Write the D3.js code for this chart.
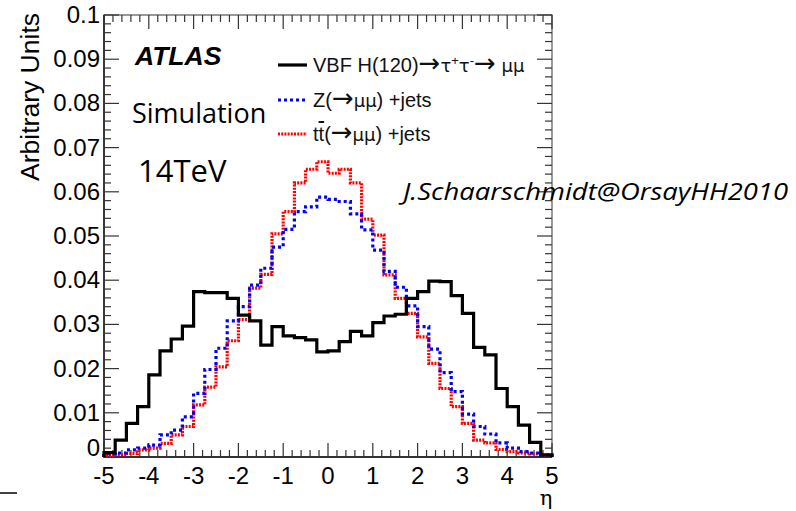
<!DOCTYPE html>
<html><head><meta charset="utf-8">
<script src="https://cdn.jsdelivr.net/npm/d3@7"></script>
<style>body{margin:0;background:#fff}svg{display:block}</style>
</head><body>
<svg id="c" width="796" height="511"></svg>
<script>
// bin edges: 40 bins of 0.25 from -5 to 5
const binLow = d3.range(40).map(i => -5 + i * 0.25);
const vbf = [0.001,0.0038,0.0076,0.0114,0.0186,0.024,0.0267,0.0296,0.0374,0.0372,
  0.0372,0.0359,0.0321,0.0308,0.0253,0.0295,0.0274,0.027,0.0265,0.0238,
  0.024,0.0261,0.0284,0.0274,0.0304,0.0319,0.0323,0.0359,0.0374,0.0398,
  0.0397,0.0365,0.0325,0.0248,0.0231,0.0155,0.0114,0.0072,0.0033,0.0005];
const zjets = [0.0007,0.0009,0.0016,0.002,0.0027,0.005,0.0061,0.0091,0.0144,0.0198,
  0.0246,0.0308,0.034,0.0389,0.0427,0.0475,0.0515,0.0555,0.0566,0.0588,
  0.0583,0.0578,0.055,0.0514,0.0468,0.042,0.0384,0.0342,0.0295,0.0244,
  0.0191,0.0148,0.0097,0.0069,0.0052,0.0032,0.002,0.0012,0.0009,0.0005];
const ttbar = [0.0003,0.0005,0.0008,0.0016,0.002,0.0031,0.005,0.0069,0.0118,0.0158,
  0.0204,0.0263,0.0311,0.0382,0.0413,0.0505,0.0555,0.062,0.0651,0.0668,
  0.0642,0.0651,0.062,0.0538,0.0502,0.0412,0.0359,0.0325,0.0272,0.0212,
  0.0155,0.0114,0.0076,0.0038,0.0032,0.0017,0.0012,0.0009,0.0007,0.0004];
const xTicks = [-5,-4,-3,-2,-1,0,1,2,3,4,5];
const yTicks = [0,0.01,0.02,0.03,0.04,0.05,0.06,0.07,0.08,0.09,0.1];
const yTickLabels = ["0","0.01","0.02","0.03","0.04","0.05","0.06","0.07","0.08","0.09","0.1"];
const legendLabels = ["VBF H(120)\u2192\u03c4\u207a\u03c4\u207b\u2192 \u03bc\u03bc","Z(\u2192\u03bc\u03bc) +jets","t\u0305t(\u2192\u03bc\u03bc) +jets"];

const svg = d3.select("#c");
const L=104, R=552, T=15, B=457;
const x = d3.scaleLinear().domain([-5,5]).range([L,R]);
const y = d3.scaleLinear().domain([0,0.1]).range([B,T]);
const font = "'Liberation Sans', Arial, sans-serif";
const sym = "'DejaVu Sans', sans-serif";

// frame
svg.append("rect").attr("x",L).attr("y",T).attr("width",R-L).attr("height",B-T)
  .attr("fill","none").attr("stroke","#555").attr("stroke-width",1.2);
svg.append("path").attr("d",`M${L},${T}V${B}H${R}`).attr("fill","none").attr("stroke","#111").attr("stroke-width",1.4);

// minor/major ticks
const xMinor = d3.range(-5,5.0001,0.2);
const yMinor = d3.range(0,0.1001,0.002);
const tg = svg.append("g").attr("stroke","#333").attr("stroke-width",1.2);
xMinor.forEach(v=>{
  const major = Math.abs(v-Math.round(v))<1e-6;
  const len = major?14:7;
  tg.append("line").attr("x1",x(v)).attr("x2",x(v)).attr("y1",B).attr("y2",B-len);
  tg.append("line").attr("x1",x(v)).attr("x2",x(v)).attr("y1",T).attr("y2",T+len);
});
yMinor.forEach(v=>{
  const major = Math.abs(v*100-Math.round(v*100))<1e-6;
  const len = major?15:7;
  tg.append("line").attr("y1",y(v)).attr("y2",y(v)).attr("x1",L).attr("x2",L+len);
  tg.append("line").attr("y1",y(v)).attr("y2",y(v)).attr("x1",R).attr("x2",R-len);
});

// tick labels
svg.append("g").selectAll("text").data(xTicks).join("text")
  .attr("x",d=>x(d)).attr("y",484).attr("text-anchor","middle")
  .attr("font-family",font).attr("font-size",24).text(d=>d);
svg.append("g").selectAll("text").data(yTicks).join("text")
  .attr("x",100).attr("y",d=>d===0 ? y(d)-1 : y(d)+8).attr("text-anchor","end")
  .attr("font-family",font).attr("font-size",24).text((d,i)=>yTickLabels[i]);

// axis titles
svg.append("text").attr("transform","translate(39,13) rotate(-90)")
  .attr("text-anchor","end").attr("font-family",font).attr("font-size",26.5).text("Arbitrary Units");
svg.append("text").attr("x",546).attr("y",505).attr("text-anchor","middle")
  .attr("font-family","'DejaVu Serif', serif").attr("font-size",21).text("\u03b7");

// histograms
function stepPath(vals){
  let p = `M${x(-5)},${y(0)}`;
  vals.forEach((v,i)=>{ p += `L${x(binLow[i])},${y(v)}L${x(binLow[i]+0.25)},${y(v)}`; });
  p += `L${x(5)},${y(0)}`;
  return p;
}
const series = [
  {vals:ttbar, color:"#ff0000", dash:"2,1.2"},
  {vals:zjets, color:"#0000ff", dash:"3,3"},
  {vals:vbf, color:"#000000", dash:null}
];
series.forEach(s=>{
  svg.append("path").attr("d",stepPath(s.vals)).attr("fill","none")
    .attr("stroke",s.color).attr("stroke-width",3.2)
    .attr("stroke-dasharray",s.dash);
});

// legend
const legY = [65,100,134];
const legStyle = [{color:"#000",dash:null},{color:"#0000ff",dash:"3,3"},{color:"#ff0000",dash:"2,1.2"}];
legendLabels.forEach((t,i)=>{
  svg.append("line").attr("x1",278).attr("x2",307).attr("y1",legY[i]).attr("y2",legY[i])
    .attr("stroke",legStyle[i].color).attr("stroke-width",3.2).attr("stroke-dasharray",legStyle[i].dash);
});
const legendRows = [
  [{t:"VBF H(120)"},{t:"\u2192",f:sym,s:26},{t:"\u03c4",f:sym,s:18},{t:"+",s:13,dy:-7},{t:"\u03c4",f:sym,s:18,dy:7},{t:"-",s:13,dy:-7},{t:"\u2192",f:sym,s:26,dy:7},{t:" \u03bc\u03bc",f:sym,s:18}],
  [{t:"Z("},{t:"\u2192",f:sym,s:26},{t:"\u03bc\u03bc",f:sym,s:18},{t:") +jets"}],
  [{t:"t"},{t:"t",o:true},{t:"("},{t:"\u2192",f:sym,s:26},{t:"\u03bc\u03bc",f:sym,s:18},{t:") +jets"}]
];
legendRows.forEach((row,i)=>{
  const te = svg.append("text").attr("x",313).attr("y",legY[i]+7)
    .attr("font-family",font).attr("font-size",20).attr("fill","#111");
  row.forEach(seg=>{
    const ts = te.append("tspan").text(seg.t);
    if(seg.f) ts.attr("font-family",seg.f);
    if(seg.s) ts.attr("font-size",seg.s);
    if(seg.dy) ts.attr("dy",seg.dy);
    if(seg.o) ts.attr("text-decoration","overline");
  });
});

// annotations
svg.append("text").attr("x",135).attr("y",65).attr("font-family",font).attr("font-size",26.5)
  .attr("font-weight","bold").attr("font-style","italic").text("ATLAS");
svg.append("text").attr("x",132).attr("y",123).attr("font-family","'Open Sans', sans-serif").attr("font-size",27).text("Simulation");
svg.append("text").attr("x",138).attr("y",182).attr("font-family","'Open Sans', sans-serif").attr("font-size",31).text("14TeV");
svg.append("text").attr("x",403).attr("y",200).attr("font-family","'Open Sans', sans-serif").attr("font-size",24)
  .attr("font-style","italic").attr("textLength",385).attr("lengthAdjust","spacingAndGlyphs").text("J.Schaarschmidt@OrsayHH2010");

// small stray line bottom-left
svg.append("line").attr("x1",0).attr("x2",17).attr("y1",493).attr("y2",493).attr("stroke","#000").attr("stroke-width",1.5);
</script>
</body></html>
